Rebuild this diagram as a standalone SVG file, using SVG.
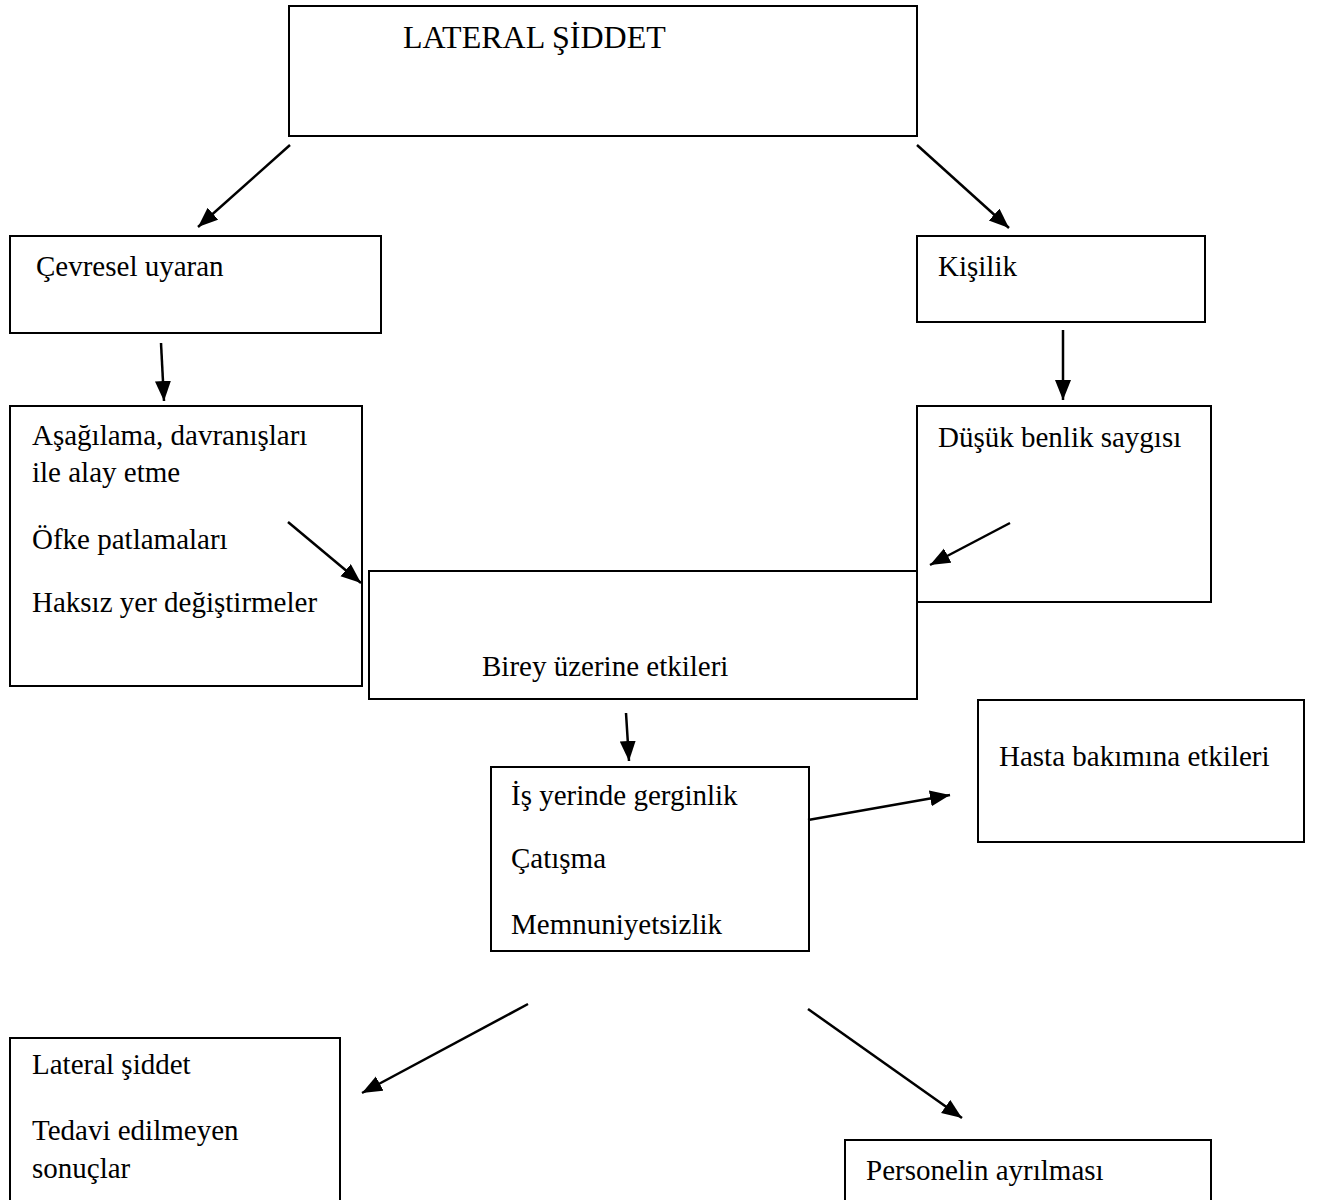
<svg xmlns="http://www.w3.org/2000/svg" width="1319" height="1200" viewBox="0 0 1319 1200">
<style>
.box{fill:#fff;stroke:#000;stroke-width:2}
.t{font-family:"Liberation Serif","Times New Roman",serif;font-size:29px;fill:#000}
.title{font-size:32px}
.c{stroke:#000;stroke-width:2.5;fill:none;marker-end:url(#ah)}
</style>
<defs>
<marker id="ah" markerUnits="userSpaceOnUse" markerWidth="22" markerHeight="18" refX="20" refY="8" orient="auto" viewBox="0 0 22 18">
<path d="M0,0 L20,8 L0,16 z" fill="#000"/>
</marker>
</defs>
<rect width="1319" height="1200" fill="#fff"/>
<g id="n-lateral-siddet"><rect class="box" x="289" y="6" width="628" height="130"/><text class="t title" x="403" y="48">LATERAL ŞİDDET</text></g>
<g id="n-cevresel"><rect class="box" x="10" y="236" width="371" height="97"/><text class="t" x="36" y="276">Çevresel uyaran</text></g>
<g id="n-kisilik"><rect class="box" x="917" y="236" width="288" height="86"/><text class="t" x="938" y="276">Kişilik</text></g>
<g id="n-asagilama"><rect class="box" x="10" y="406" width="352" height="280"/>
<text class="t" x="32" y="445">Aşağılama, davranışları</text>
<text class="t" x="32" y="482">ile alay etme</text>
<text class="t" x="32" y="549">Öfke patlamaları</text>
<text class="t" x="32" y="612">Haksız yer değiştirmeler</text></g>
<g id="n-dusuk"><rect class="box" x="917" y="406" width="294" height="196"/><text class="t" x="938" y="447">Düşük benlik saygısı</text></g>
<g id="n-birey"><rect class="box" x="369" y="571" width="548" height="128"/><text class="t" x="482" y="676">Birey üzerine etkileri</text></g>
<g id="n-is-yerinde"><rect class="box" x="491" y="767" width="318" height="184"/>
<text class="t" x="511" y="805">İş yerinde gerginlik</text>
<text class="t" x="511" y="868">Çatışma</text>
<text class="t" x="511" y="934">Memnuniyetsizlik</text></g>
<g id="n-hasta"><rect class="box" x="978" y="700" width="326" height="142"/><text class="t" x="999" y="766">Hasta bakımına etkileri</text></g>
<g id="n-lateral"><rect class="box" x="10" y="1038" width="330" height="170"/>
<text class="t" x="32" y="1074">Lateral şiddet</text>
<text class="t" x="32" y="1140">Tedavi edilmeyen</text>
<text class="t" x="32" y="1178">sonuçlar</text></g>
<g id="n-personel"><rect class="box" x="845" y="1140" width="366" height="70"/><text class="t" x="866" y="1180">Personelin ayrılması</text></g>
<g id="connectors">
<line class="c" x1="290" y1="145" x2="198" y2="227"/>
<line class="c" x1="917" y1="145" x2="1009" y2="228"/>
<line class="c" x1="161" y1="343" x2="164" y2="401"/>
<line class="c" x1="1063" y1="330" x2="1063" y2="400"/>
<line class="c" x1="288" y1="522" x2="361" y2="583"/>
<line class="c" x1="1010" y1="523" x2="930" y2="565"/>
<line class="c" x1="626" y1="713" x2="629" y2="761"/>
<line class="c" x1="808" y1="820" x2="950" y2="795"/>
<line class="c" x1="528" y1="1004" x2="362" y2="1093"/>
<line class="c" x1="808" y1="1009" x2="962" y2="1118"/>
</g>
</svg>
